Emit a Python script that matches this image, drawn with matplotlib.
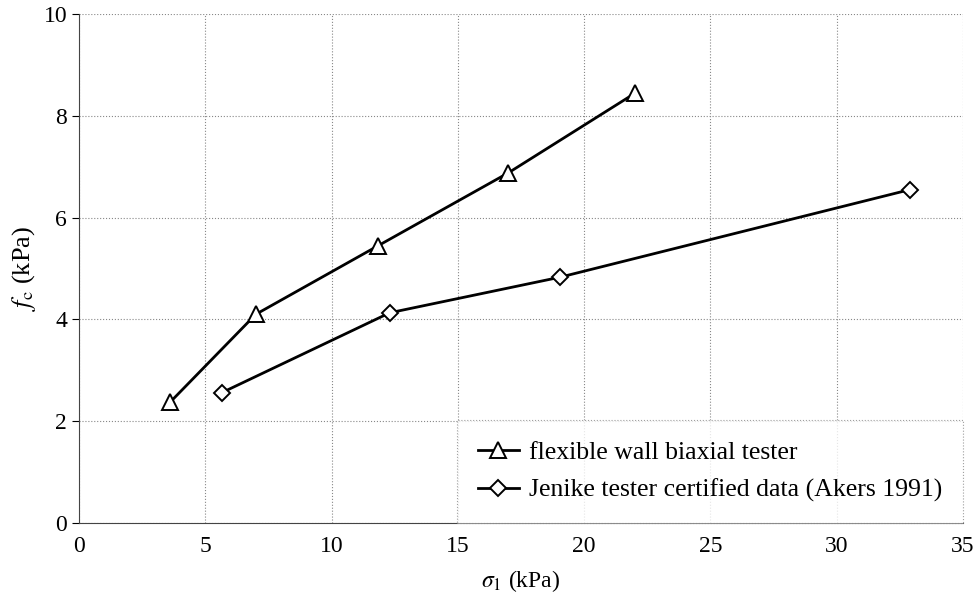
import matplotlib
matplotlib.use("Agg")
import matplotlib.pyplot as plt

# data
biax_sigma = [3.6, 7.0, 11.85, 17.0, 22.0]
biax_fc = [2.37, 4.1, 5.45, 6.88, 8.44]
jen_sigma = [5.65, 12.3, 19.05, 32.9]
jen_fc = [2.56, 4.13, 4.83, 6.55]
xticks = [0, 5, 10, 15, 20, 25, 30, 35]
yticks = [0, 2, 4, 6, 8, 10]
label_biax = "flexible wall biaxial tester"
label_jen = "Jenike tester certified data (Akers 1991)"

plt.rcParams['font.family'] = ['Liberation Serif', 'DejaVu Serif']
plt.rcParams['mathtext.fontset'] = 'stix'

fig = plt.figure(figsize=(9.73, 6.02), dpi=100)
ax = fig.add_axes([0.0812, 0.1312, 0.9085, 0.8455])

ax.plot(biax_sigma, biax_fc, color='black', lw=2.0, marker='^', ms=11,
        mfc='white', mec='black', mew=1.4, label=label_biax, zorder=3)
ax.plot(jen_sigma, jen_fc, color='black', lw=2.0, marker='D', ms=8,
        mfc='white', mec='black', mew=1.4, label=label_jen, zorder=3)

ax.set_xlim(0, 35)
ax.set_ylim(0, 10)
ax.set_xticks(xticks)
ax.set_yticks(yticks)
ax.grid(True, color='#888888', linestyle=':', linewidth=0.8)
for s in ['top', 'right']:
    ax.spines[s].set_visible(False)
ax.spines['left'].set_color('#444444')
ax.spines['bottom'].set_color('#444444')
ax.tick_params(axis='y', direction='out', length=5, labelsize=17, width=0.8)
ax.tick_params(axis='x', direction='out', length=0, labelsize=17, pad=9)

ax.set_xlabel(r'$\sigma_1$ (kPa)', fontsize=17, labelpad=8)
ax.set_ylabel(r'$f_\mathrm{c}$ (kPa)', fontsize=19, labelpad=4)

leg = ax.legend(loc='lower right', fontsize=18.5, frameon=True, fancybox=False,
                handlelength=1.6, borderpad=0.8, labelspacing=0.6,
                handletextpad=0.4, borderaxespad=0.0)
leg.get_frame().set_edgecolor('#888888')
leg.get_frame().set_linestyle(':')
leg.get_frame().set_linewidth(0.8)

fig.savefig('out.png', dpi=100)
